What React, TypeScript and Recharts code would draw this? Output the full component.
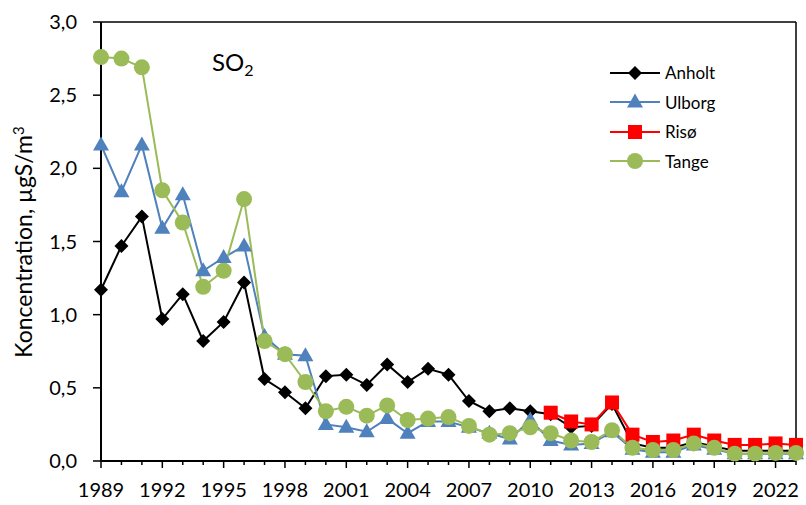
import React from "react";
import { LineChart, Line, XAxis, YAxis, ReferenceLine } from "recharts";

const YEARS = [
  1989, 1990, 1991, 1992, 1993, 1994, 1995, 1996, 1997, 1998, 1999, 2000, 2001, 2002, 2003, 2004, 2005, 2006,
  2007, 2008, 2009, 2010, 2011, 2012, 2013, 2014, 2015, 2016, 2017, 2018, 2019, 2020, 2021, 2022, 2023,
];

const ANHOLT = [
  1.17, 1.47, 1.67, 0.97, 1.14, 0.82, 0.95, 1.22, 0.56, 0.47, 0.36, 0.58, 0.59, 0.52, 0.66, 0.54, 0.63, 0.59,
  0.41, 0.34, 0.36, 0.34, 0.32, 0.23, 0.24, 0.39, 0.12, 0.09, 0.09, 0.13, 0.1, 0.07, 0.07, 0.07, 0.07,
];

const ULBORG = [
  2.16, 1.84, 2.16, 1.59, 1.82, 1.3, 1.39, 1.47, 0.85, 0.73, 0.72, 0.25, 0.23, 0.2, 0.29, 0.19, 0.27, 0.27,
  0.23, 0.19, 0.15, 0.28, 0.14, 0.11, 0.12, 0.2, 0.08, 0.06, 0.06, 0.11, 0.08, 0.05, 0.05, 0.05, 0.05,
];

const RISO = [
  null, null, null, null, null, null, null, null, null, null, null, null, null, null, null, null, null, null,
  null, null, null, null, 0.33, 0.27, 0.25, 0.4, 0.18, 0.13, 0.14, 0.18, 0.14, 0.11, 0.11, 0.12, 0.11,
];

const TANGE = [
  2.76, 2.75, 2.69, 1.85, 1.63, 1.19, 1.3, 1.79, 0.82, 0.73, 0.54, 0.34, 0.37, 0.31, 0.38, 0.28, 0.29, 0.3,
  0.24, 0.18, 0.19, 0.23, 0.19, 0.14, 0.13, 0.21, 0.09, 0.075, 0.075, 0.12, 0.09, 0.05, 0.05, 0.055, 0.055,
];

const Y_TICKS = [0, 0.5, 1, 1.5, 2, 2.5, 3];

const FONT = "Lato, 'Open Sans', sans-serif";

const SERIES = [
  { key: "anholt", name: "Anholt", color: "#000000", shape: "diamond" },
  { key: "ulborg", name: "Ulborg", color: "#4F81BD", shape: "triangle" },
  { key: "riso", name: "Risø", color: "#FF0000", shape: "square" },
  { key: "tange", name: "Tange", color: "#9BBB59", shape: "circle" },
];

const data = YEARS.map((year, i) => ({
  year,
  anholt: ANHOLT[i],
  ulborg: ULBORG[i],
  riso: RISO[i],
  tange: TANGE[i],
}));

function Marker({ shape, cx, cy, color }: { shape: string; cx: number; cy: number; color: string }) {
  if (shape === "diamond") {
    const r = 7;
    return <polygon points={`${cx},${cy - r} ${cx + r},${cy} ${cx},${cy + r} ${cx - r},${cy}`} fill={color} />;
  }
  if (shape === "triangle") {
    return (
      <polygon points={`${cx},${cy - 8.5} ${cx + 8},${cy + 5.5} ${cx - 8},${cy + 5.5}`} fill={color} />
    );
  }
  if (shape === "square") {
    return <rect x={cx - 7} y={cy - 7} width={14} height={14} fill={color} />;
  }
  return <circle cx={cx} cy={cy} r={8} fill={color} />;
}

const makeDot = (shape: string, color: string) => (props: any) => {
  const { cx, cy, value, index } = props;
  if (cx == null || cy == null || value == null) return <g key={`e-${index}`} />;
  return (
    <g key={`d-${index}`}>
      <Marker shape={shape} cx={cx} cy={cy} color={color} />
    </g>
  );
};

function YearTick({ x, y, payload }: any) {
  const major = (payload.value - YEARS[0]) % 3 === 0;
  return (
    <g>
      <line x1={x} x2={x} y1={y} y2={y + (major ? 7 : 4)} stroke="#000" strokeWidth={1.5} />
      {major && (
        <text x={x} y={y + 36} textAnchor="middle" fontFamily={FONT} fontSize={20} fill="#000">
          {payload.value}
        </text>
      )}
    </g>
  );
}

function LegendBox() {
  return (
    <div
      style={{
        position: "absolute",
        left: 610,
        top: 58,
        fontFamily: FONT,
        fontSize: 17,
        color: "#000",
      }}
    >
      {SERIES.map((s) => (
        <div key={s.key} style={{ display: "flex", alignItems: "center", height: 29.5 }}>
          <svg width={52} height={20} style={{ marginRight: 3 }}>
            <line x1={0} x2={50} y1={10} y2={10} stroke={s.color} strokeWidth={2} />
            <Marker shape={s.shape} cx={25} cy={10} color={s.color} />
          </svg>
          <span>{s.name}</span>
        </div>
      ))}
    </div>
  );
}

export default function App() {
  return (
    <div style={{ position: "absolute", left: 0, top: 0, width: 806, height: 505, background: "#fff" }}>
      <LineChart width={806} height={505} data={data} margin={{ top: 22, right: 10, bottom: 0, left: 0 }}>
        <XAxis
          dataKey="year"
          interval={0}
          tick={<YearTick />}
          tickLine={false}
          tickSize={0}
          tickMargin={0}
          height={44}
          axisLine={{ stroke: "#000", strokeWidth: 2 }}
        />
        <YAxis
          domain={[0, 3]}
          ticks={Y_TICKS}
          width={101}
          tickFormatter={(v: number) => v.toFixed(1).replace(".", ",")}
          tick={{ fontFamily: FONT, fontSize: 20, fill: "#000" }}
          tickSize={8}
          tickMargin={16}
          tickLine={{ stroke: "#000", strokeWidth: 1.5 }}
          axisLine={{ stroke: "#000", strokeWidth: 2 }}
        />
        <ReferenceLine y={3} stroke="#000" strokeWidth={1.5} />
        <ReferenceLine x={2023} stroke="#000" strokeWidth={1.5} />
        {SERIES.map((s) => (
          <Line
            key={s.key}
            type="linear"
            dataKey={s.key}
            name={s.name}
            stroke={s.color}
            strokeWidth={2}
            dot={makeDot(s.shape, s.color)}
            activeDot={false}
            connectNulls={false}
            isAnimationActive={false}
          />
        ))}
      </LineChart>
      <LegendBox />
      <div
        style={{
          position: "absolute",
          left: 212,
          top: 50,
          fontFamily: FONT,
          fontSize: 24,
          color: "#000",
          lineHeight: 1,
        }}
      >
        SO<sub style={{ fontSize: 16, verticalAlign: "-5px" }}>2</sub>
      </div>
      <div
        style={{
          position: "absolute",
          left: 23,
          top: 242,
          transform: "translate(-50%, -50%) rotate(-90deg)",
          fontFamily: FONT,
          fontSize: 23,
          color: "#000",
          whiteSpace: "nowrap",
          lineHeight: 1,
        }}
      >
        Koncentration, µgS/m<sup style={{ fontSize: 15, verticalAlign: "8px" }}>3</sup>
      </div>
    </div>
  );
}
